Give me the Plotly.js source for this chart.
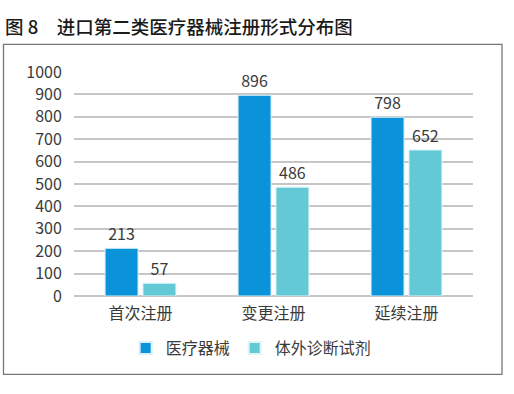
<!DOCTYPE html>
<html><head><meta charset="utf-8">
<script src="https://cdn.plot.ly/plotly-3.0.1.min.js"></script>
<style>html,body{margin:0;padding:0;background:#fff;}#chart{width:514px;height:394px;}</style>
</head><body><div id="chart"></div>
<script>
const categories = ['首次注册', '变更注册', '延续注册'];
const seriesNames = ['医疗器械', '体外诊断试剂'];
const deviceValues = [213, 896, 798];
const ivdValues = [57, 486, 652];
const yTicks = [0, 100, 200, 300, 400, 500, 600, 700, 800, 900, 1000];

const FONT = '"Noto Sans CJK SC", "Noto Sans", sans-serif';
const TXT = '#3a3a3a';

const traces = [
  {type: 'bar', name: seriesNames[0], x: categories, y: deviceValues,
   text: deviceValues.map(String), textposition: 'outside', cliponaxis: false,
   textfont: {family: FONT, size: 16, color: TXT},
   marker: {color: '#0b93d9', line: {color: '#d8f0fa', width: 1}}},
  {type: 'bar', name: seriesNames[1], x: categories, y: ivdValues,
   text: ivdValues.map(String), textposition: 'outside', cliponaxis: false,
   textfont: {family: FONT, size: 16, color: TXT},
   marker: {color: '#64c9d6', line: {color: '#e0f5f8', width: 1}}}
];

const layout = {
  width: 514, height: 394,
  margin: {l: 74, r: 41, t: 72, b: 98},
  paper_bgcolor: '#fff', plot_bgcolor: '#fff',
  font: {family: FONT, color: TXT, size: 16},
  title: {text: '图 8　进口第二类医疗器械注册形式分布图', x: 5/514, xanchor: 'left',
          y: 1 - 28/394, yanchor: 'middle', yref: 'container', xref: 'container',
          font: {family: FONT, size: 18.5, color: '#1a1a1a', weight: 500}},
  barmode: 'group', bargap: 0.43, bargroupgap: 0.13,
  showlegend: true,
  legend: {orientation: 'h', x: 0.444, xanchor: 'center', y: -0.233, yanchor: 'middle',
           font: {family: FONT, size: 16, color: TXT}, itemsizing: 'constant', traceorder: 'normal'},
  xaxis: {showgrid: false, showline: false, zeroline: false,
          ticks: 'outside', ticklen: 3, tickcolor: 'rgba(0,0,0,0)',
          tickfont: {family: FONT, size: 16, color: TXT}},
  yaxis: {range: [0, 1000], tickvals: yTicks, ticktext: yTicks.map(String),
          showgrid: true, gridcolor: '#c6c6c6', gridwidth: 2,
          zeroline: true, zerolinecolor: '#c6c6c6', zerolinewidth: 2,
          showline: false, ticks: 'outside', ticklen: 8, tickcolor: 'rgba(0,0,0,0)',
          tickfont: {family: FONT, size: 16, color: TXT}},
  shapes: [{type: 'rect', xref: 'paper', yref: 'paper',
            x0: (3.5-74)/399, x1: (502-74)/399, y0: (295.7-374)/224, y1: (295.7-44)/224,
            line: {color: '#777', width: 1.3}, fillcolor: 'rgba(0,0,0,0)', layer: 'below'}]
};

Plotly.newPlot('chart', traces, layout, {displayModeBar: false, staticPlot: true});
</script></body></html>
